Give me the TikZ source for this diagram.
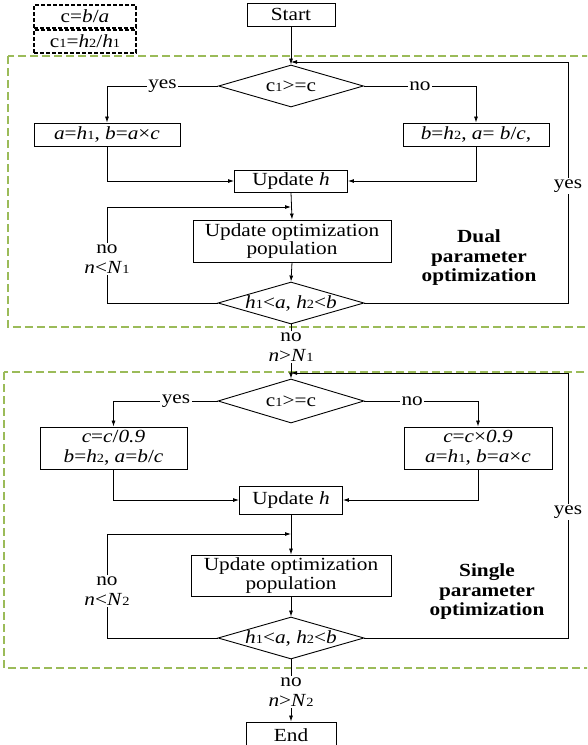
\documentclass[tikz,border=0pt]{standalone}
\usepackage{fontspec}
\setmainfont{Liberation Serif}[FakeStretch=1.15]
\usetikzlibrary{shapes.geometric,arrows.meta}
\definecolor{grn}{RGB}{155,187,89}
\newcommand{\sbn}[1]{{\fontsize{12.5}{12}\selectfont #1}}
\newcommand{\iv}[1]{\textit{#1}}
\begin{document}
\begin{tikzpicture}[x=1pt,y=-1pt,font=\fontsize{18.5}{20}\selectfont,
  >={Latex[length=6pt,width=4pt]},
  box/.style={draw,line width=0.9pt,inner sep=0pt,align=center},
  dia/.style={draw,diamond,line width=0.9pt,inner sep=0pt},
  lbl/.style={fill=white,inner sep=1.5pt,align=center},
  ln/.style={line width=0.8pt},
  gbox/.style={draw=grn,line width=1.5pt,dash pattern=on 8pt off 4pt},
  kbox/.style={draw,line width=1.5pt,dash pattern=on 4pt off 2pt,inner sep=0pt}]
\useasboundingbox (0,0) rectangle (587,745);
\clip (0,0) rectangle (587,745);
% green groups
\draw[gbox] (8,56) rectangle (610,327);
\draw[gbox] (4,372) rectangle (610,668);
% legend
\node[kbox,minimum width=102pt,minimum height=23pt] (k1) at (85,16.5) {c=\iv{b}/\iv{a}};
\node[kbox,minimum width=102pt,minimum height=23pt] (k2) at (85,41.5) {c\sbn{1}=\iv{h}\sbn{2}/\iv{h}\sbn{1}};
% section 1
\node[box,minimum width=88pt,minimum height=23pt] (start) at (291,14.5) {Start};
\node[dia,minimum width=145pt,minimum height=42pt,label={center:c\sbn{1}>=c}] (d1) at (291,86) {};
\node[box,minimum width=146pt,minimum height=23pt] (a1) at (107,134.5) {\iv{a}=\iv{h}\sbn{1}, \iv{b}=\iv{a}×\iv{c}};
\node[box,minimum width=146pt,minimum height=23pt] (b1) at (476,134.5) {\iv{b}=\iv{h}\sbn{2}, \iv{a}= \iv{b}/\iv{c},};
\node[box,minimum width=113pt,minimum height=22pt] (u1) at (291,181) {Update \iv{h}};
\node[box,minimum width=198pt,minimum height=42pt,font=\fontsize{18.5}{18.5}\selectfont] (o1) at (292,241) {Update optimization\\population};
\node[dia,minimum width=146pt,minimum height=42pt,label={center:\iv{h}\sbn{1}<\iv{a}, \iv{h}\sbn{2}<\iv{b}}] (d2) at (291,303) {};
\node[align=center,font=\fontsize{18.5}{19.5}\selectfont\bfseries] (dl) at (479,258) {Dual\\parameter\\optimization};
\coordinate (j1) at (291,62);
\coordinate (j2) at (291,207);
% section 2
\node[dia,minimum width=146pt,minimum height=44pt,label={center:c\sbn{1}>=c}] (d3) at (291,401) {};
\node[box,minimum width=147pt,minimum height=42pt] (a2) at (113.5,448) {\iv{c}=\iv{c}/\iv{0.9}\\\iv{b}=\iv{h}\sbn{2}, \iv{a}=\iv{b}/\iv{c}};
\node[box,minimum width=148pt,minimum height=42pt] (b2) at (478,448) {\iv{c}=\iv{c}×\iv{0.9}\\\iv{a}=\iv{h}\sbn{1}, \iv{b}=\iv{a}×\iv{c}};
\node[box,minimum width=103pt,minimum height=28pt] (u2) at (291,500) {Update \iv{h}};
\node[box,minimum width=200pt,minimum height=41pt,font=\fontsize{18.5}{18.5}\selectfont] (o2) at (291,575.5) {Update optimization\\population};
\node[dia,minimum width=146pt,minimum height=42pt,label={center:\iv{h}\sbn{1}<\iv{a}, \iv{h}\sbn{2}<\iv{b}}] (d4) at (291,638) {};
\node[align=center,font=\fontsize{18.5}{19.5}\selectfont\bfseries] (sl) at (487,592) {Single\\parameter\\optimization};
\node[box,minimum width=90pt,minimum height=26pt] (end) at (291,735) {End};
\coordinate (j3) at (291,373);
\coordinate (j4) at (291,534);
% connectors section 1
\draw[ln,->] (start.south) -- (d1.north);
\draw[ln,->] (d1.west) -- node[lbl]{yes} (a1.north |- d1.west) -- (a1.north);
\draw[ln,->] (d1.east) -- node[lbl]{no} (b1.north |- d1.east) -- (b1.north);
\draw[ln,->] (a1.south) |- (u1.west);
\draw[ln,->] (b1.south) |- (u1.east);
\draw[ln,->] (u1.south) -- (o1.north);
\draw[ln,->] (o1.south) -- (d2.north);
\draw[ln,->] (d2.west) -- (107,303) -- node[lbl,pos=0.46]{no\\\iv{n}<\iv{N}\sbn{1}} (107,207) -- (j2);
\draw[ln,->] (d2.east) -- (568,303) -- node[lbl,pos=0.485]{yes} (568,62) -- (j1);
\draw[ln,->] (d2.south) -- node[lbl,pos=0.42]{no\\\iv{n}>\iv{N}\sbn{1}} (d3.north);
% connectors section 2
\draw[ln,->] (d3.west) -- node[lbl,pos=0.4]{yes} (a2.north |- d3.west) -- (a2.north);
\draw[ln,->] (d3.east) -- node[lbl,pos=0.42]{no} (b2.north |- d3.east) -- (b2.north);
\draw[ln,->] (a2.south) |- (u2.west);
\draw[ln,->] (b2.south) |- (u2.east);
\draw[ln,->] (u2.south) -- (o2.north);
\draw[ln,->] (o2.south) -- (d4.north);
\draw[ln,->] (d4.west) -- (107,638) -- node[lbl,pos=0.45]{no\\\iv{n}<\iv{N}\sbn{2}} (107,534) -- (j4);
\draw[ln,->] (d4.east) -- (568,638) -- node[lbl,pos=0.475]{yes} (568,373) -- (j3);
\draw[ln,->] (d4.south) -- node[lbl,pos=0.52]{no\\\iv{n}>\iv{N}\sbn{2}} (end.north);
\end{tikzpicture}
\end{document}
